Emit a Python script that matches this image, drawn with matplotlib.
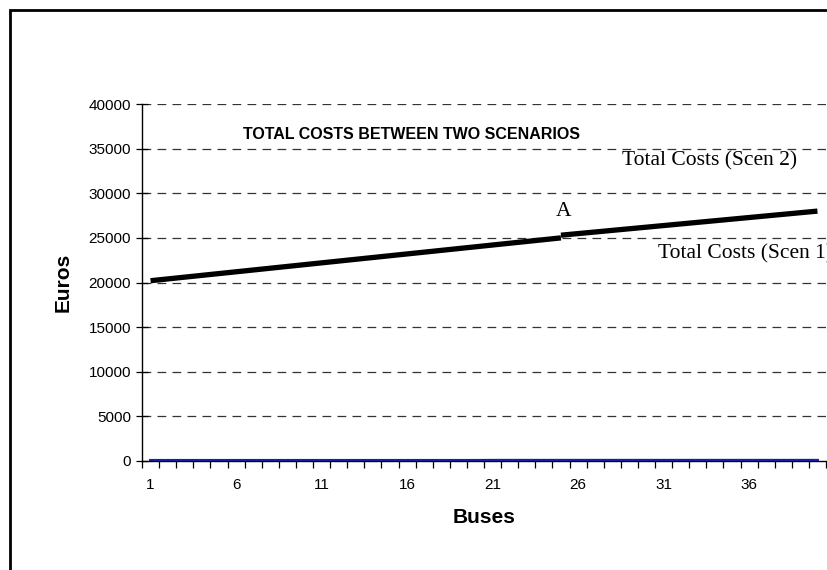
import matplotlib.pyplot as plt
import numpy as np
from matplotlib.patches import Rectangle

plt.rcParams['font.family'] = ['Liberation Sans', 'DejaVu Sans']

buses = list(range(1, 41))
# Scenario 1 up to bus 25, scenario 2 from bus 25 on
scen1_buses = list(range(1, 26))
scen1_costs = [20200, 20400, 20600, 20800, 21000, 21200, 21400, 21600, 21800, 22000,
               22200, 22400, 22600, 22800, 23000, 23200, 23400, 23600, 23800, 24000,
               24200, 24400, 24600, 24800, 25000]
scen2_buses = list(range(25, 41))
scen2_costs = [25300, 25480, 25660, 25840, 26020, 26200, 26380, 26560, 26740, 26920,
               27100, 27280, 27460, 27640, 27820, 28000]
small_costs = [60, 60, 60, 60, 60, 60, 60, 60, 60, 60, 60, 60, 60, 60, 60, 60, 60, 60, 60, 60,
               70, 70, 70, 70, 70, 70, 70, 70, 70, 70, 70, 70, 70, 70, 70, 70, 70, 70, 70, 70]
tick_labels = ['1', '6', '11', '16', '21', '26', '31', '36']

fig = plt.figure(figsize=(8.27, 5.70), dpi=100)
ax = fig.add_axes([142/827, 1-461/570, 684/827, (461-104)/570])

# outer frame of the chart object (runs off the right and bottom)
fig.patches.append(Rectangle((10/827, -0.1), 1.2, 1-10/570+0.1, transform=fig.transFigure,
                             fill=False, edgecolor='black', linewidth=2.0))

for v in range(5000, 40001, 5000):
    ax.axhline(v, color='#333333', linewidth=0.9, dashes=(7, 5), zorder=1)

ax.plot(buses, small_costs, color='#1c1ca0', linewidth=2.2, zorder=3)
ax.plot(scen1_buses, scen1_costs, color='black', linewidth=3.8, solid_capstyle='butt', zorder=4)
ax.plot(scen2_buses, scen2_costs, color='black', linewidth=3.8, solid_capstyle='butt', zorder=4)

ax.set_xlim(0.5, 40.5)
ax.set_ylim(0, 40000)
ax.set_yticks(range(0, 40001, 5000))
ax.set_yticklabels([str(v) for v in range(0, 40001, 5000)], fontsize=11)
ax.set_xticks(np.arange(0.5, 41, 1))
ax.set_xticklabels([])
ax.set_xticks([int(t) for t in tick_labels], minor=True)
ax.set_xticklabels(tick_labels, minor=True, fontsize=11)
ax.tick_params(axis='x', which='major', direction='out', length=5, width=0.9)
ax.tick_params(axis='x', which='minor', length=0, pad=12)
ax.tick_params(axis='y', direction='inout', length=8, width=0.9, pad=4)

for s in ['top', 'right']:
    ax.spines[s].set_visible(False)
ax.spines['left'].set_linewidth(1.0)
ax.spines['bottom'].set_linewidth(1.0)

ax.set_xlabel('Buses', fontsize=15, fontweight='bold', labelpad=12)
ax.set_ylabel('Euros', fontsize=15, fontweight='bold', labelpad=11)

ax.text(243/827, 1-134/570, 'TOTAL COSTS BETWEEN TWO SCENARIOS', transform=fig.transFigure,
        fontsize=11.5, fontweight='bold', va='center', ha='left')
ax.text(622/827, 1-161/570, 'Total Costs (Scen 2)', transform=fig.transFigure,
        family='Liberation Serif', fontsize=15.5, va='center', ha='left')
ax.text(658/827, 1-254/570, 'Total Costs (Scen 1)', transform=fig.transFigure,
        family='Liberation Serif', fontsize=15.5, va='center', ha='left')
ax.text(564/827, 1-211/570, 'A', transform=fig.transFigure,
        family='Liberation Serif', fontsize=15.5, va='center', ha='center')

fig.savefig('out.png', dpi=100)
